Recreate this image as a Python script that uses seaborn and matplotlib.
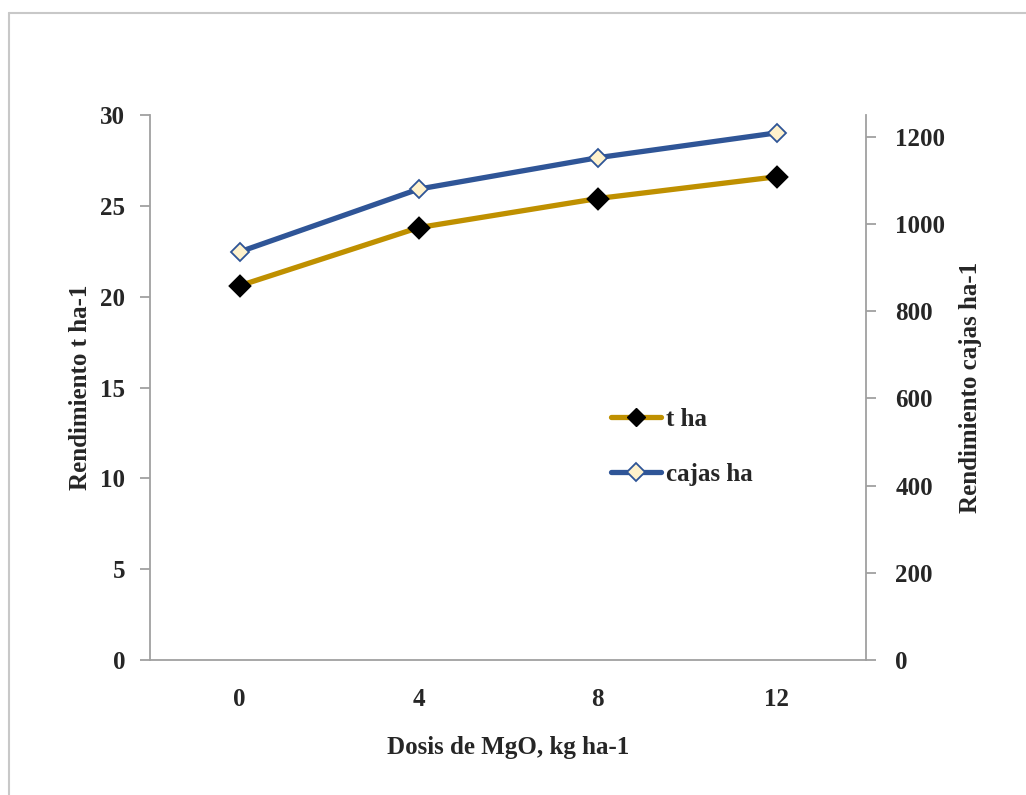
import matplotlib
matplotlib.use("Agg")
import matplotlib.pyplot as plt
import seaborn as sns
import pandas as pd
from matplotlib.lines import Line2D

doses = ["0", "4", "8", "12"]
t_ha = [20.6, 23.8, 25.4, 26.6]
cajas_ha = [936, 1080, 1152, 1209]

sns.set_style("white")
plt.rcParams["font.family"] = ["Liberation Serif", "DejaVu Serif"]
plt.rcParams["font.weight"] = "bold"

df = pd.DataFrame({"dose": doses, "t": t_ha, "cajas": cajas_ha})

W, H = 1026, 795
fig = plt.figure(figsize=(W / 100, H / 100), dpi=100)
ax = fig.add_axes([150 / W, 1 - 660 / H, (866 - 150) / W, (660 - 115) / H])
ax2 = ax.twinx()

gold = "#BF9000"
blue = "#2F5597"
spine_c = "#A0A0A0"
ms = 9

sns.pointplot(data=df, x="dose", y="t", order=doses, ax=ax, errorbar=None,
              color=gold, markers="D", linewidth=3.8, markersize=ms,
              markerfacecolor="black", markeredgecolor="black")
sns.pointplot(data=df, x="dose", y="cajas", order=doses, ax=ax2, errorbar=None,
              color=blue, markers="D", linewidth=3.8, markersize=ms,
              markerfacecolor="#FFF2CC", markeredgecolor=blue, markeredgewidth=1.3)

for a in (ax, ax2):
    a.set_xlim(-0.5, 3.5)
    for s in a.spines.values():
        s.set_color(spine_c)
        s.set_linewidth(1.3)
    a.spines["top"].set_visible(False)

ax.set_ylim(0, 30)
ax.set_yticks([0, 5, 10, 15, 20, 25, 30])
ax2.set_ylim(0, 1250)
ax2.set_yticks([0, 200, 400, 600, 800, 1000, 1200])
ax.spines["right"].set_visible(False)
ax2.spines["left"].set_visible(False)
ax2.spines["bottom"].set_visible(False)

fs = 18
ax.tick_params(axis="y", direction="out", length=7, width=1.3, color=spine_c,
               labelsize=fs, pad=11, left=True)
ax2.tick_params(axis="y", direction="out", length=7, width=1.3, color=spine_c,
                labelsize=fs, pad=14, right=True)
ax.tick_params(axis="x", length=0, labelsize=fs, pad=20)
for lab in ax.get_yticklabels() + ax2.get_yticklabels() + ax.get_xticklabels():
    lab.set_fontweight("bold")

ax.set_xlabel("Dosis de MgO, kg ha-1", fontsize=fs, fontweight="bold", labelpad=18)
ax.set_ylabel("Rendimiento t ha-1", fontsize=fs, fontweight="bold", labelpad=6)
ax2.set_ylabel("Rendimiento cajas ha-1", fontsize=fs, fontweight="bold", labelpad=10)
ax.grid(False)
ax2.grid(False)

h1 = Line2D([], [], color=gold, lw=3.8, marker="D", ms=ms, mfc="black", mec="black")
h2 = Line2D([], [], color=blue, lw=3.8, marker="D", ms=ms, mfc="#FFF2CC", mec=blue, mew=1.3)
leg = ax2.legend([h1, h2], ["t ha", "cajas ha"], frameon=False,
                 loc="upper left",
                 bbox_to_anchor=((588 - 150) / (866 - 150), (660 - 385) / (660 - 115)),
                 handlelength=2.0, handletextpad=0.2, labelspacing=1.3,
                 prop={"weight": "bold", "size": fs})

# outer frame (cropped)
fig.add_artist(Line2D([9 / W, 1], [1 - 12.5 / H, 1 - 12.5 / H], transform=fig.transFigure,
                      color="#C8C8C8", lw=1.5))
fig.add_artist(Line2D([9 / W, 9 / W], [0, 1 - 12.5 / H], transform=fig.transFigure,
                      color="#C8C8C8", lw=1.5))

fig.savefig("out.png", dpi=100)
